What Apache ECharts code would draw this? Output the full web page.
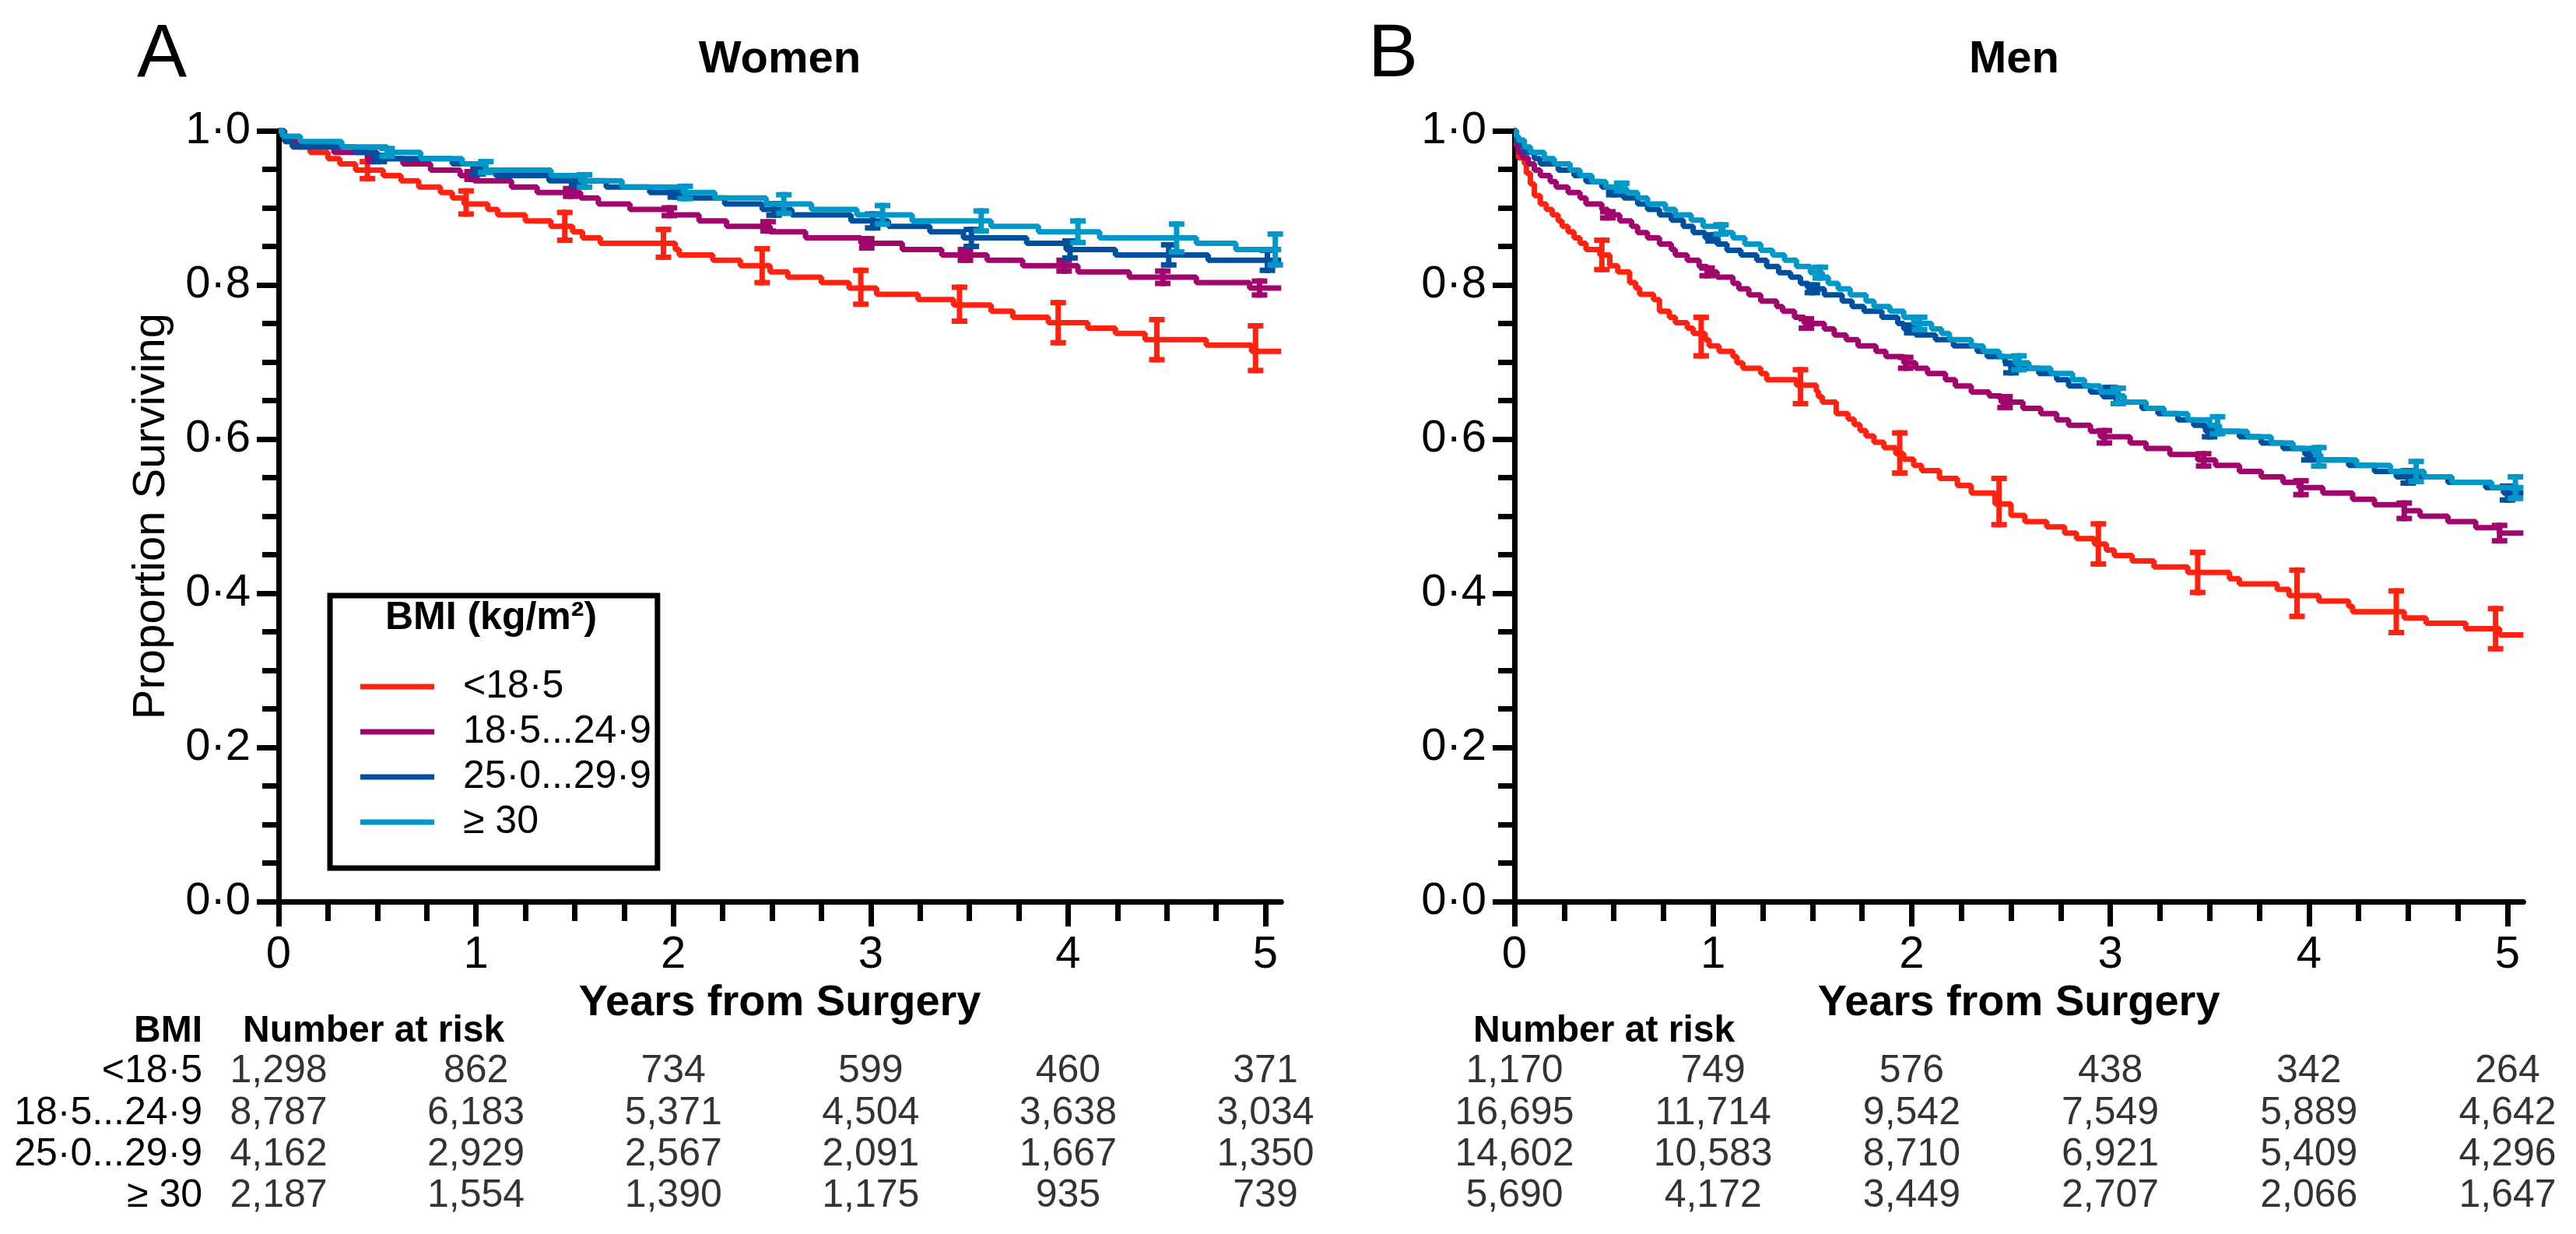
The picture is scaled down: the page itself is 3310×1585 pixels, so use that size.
<!DOCTYPE html>
<html><head><meta charset="utf-8">
<script src="https://cdn.jsdelivr.net/npm/echarts@6/dist/echarts.min.js"></script>
<style>html,body{margin:0;padding:0;background:#fff}#c{width:3310px;height:1585px}</style>
</head><body><div id="c"></div>
<script>
// ---------- data ----------
const groups = ['<18·5', '18·5...24·9', '25·0...29·9', '≥ 30'];
const groupColors = ['#ff2211', '#a0066c', '#00509e', '#0098c8'];
const riskYears = [0, 1, 2, 3, 4, 5];
const majorX = [0, 1, 2, 3, 4, 5];
const minorX = [0.25,0.5,0.75,1.25,1.5,1.75,2.25,2.5,2.75,3.25,3.5,3.75,4.25,4.5,4.75];

// Women: survival steps [years, proportion]
const womenLt185 = [[0,1],[0.03,0.990],[0.07,0.980],[0.16,0.972],[0.25,0.964],[0.31,0.957],[0.39,0.949],[0.53,0.942],[0.62,0.935],[0.71,0.927],[0.82,0.920],[0.88,0.913],[0.94,0.905],[1.06,0.898],[1.11,0.891],[1.25,0.883],[1.38,0.876],[1.49,0.869],[1.54,0.861],[1.63,0.854],[2.01,0.846],[2.03,0.839],[2.20,0.832],[2.34,0.825],[2.49,0.817],[2.58,0.810],[2.75,0.803],[2.89,0.796],[3.03,0.788],[3.24,0.781],[3.42,0.774],[3.61,0.766],[3.72,0.758],[3.90,0.751],[4.10,0.744],[4.24,0.737],[4.39,0.729],[4.70,0.722],[4.93,0.714],[5.08,0.714]];
const women185 = [[0,1],[0.02,0.993],[0.04,0.986],[0.10,0.979],[0.28,0.972],[0.45,0.964],[0.63,0.957],[0.77,0.949],[0.92,0.942],[0.99,0.935],[1.18,0.927],[1.31,0.920],[1.53,0.913],[1.62,0.905],[1.78,0.898],[1.99,0.891],[2.13,0.883],[2.27,0.876],[2.49,0.869],[2.67,0.861],[2.95,0.854],[3.16,0.846],[3.36,0.839],[3.59,0.832],[3.77,0.825],[4.05,0.817],[4.31,0.810],[4.65,0.803],[4.92,0.796],[5.08,0.796]];
const women250 = [[0,1],[0.03,0.986],[0.07,0.979],[0.39,0.972],[0.50,0.964],[0.88,0.957],[1.00,0.949],[1.10,0.942],[1.37,0.935],[1.66,0.927],[1.88,0.920],[2.05,0.913],[2.26,0.905],[2.45,0.898],[2.60,0.891],[2.90,0.883],[3.09,0.876],[3.30,0.869],[3.47,0.861],[3.79,0.854],[3.99,0.846],[4.24,0.839],[4.71,0.832],[5.08,0.832]];
const women30 = [[0,1],[0.02,0.993],[0.11,0.986],[0.32,0.979],[0.55,0.972],[0.72,0.964],[0.93,0.957],[1.05,0.949],[1.38,0.942],[1.53,0.935],[1.74,0.927],[2.05,0.920],[2.21,0.913],[2.47,0.905],[2.70,0.898],[2.93,0.891],[3.21,0.883],[3.61,0.876],[3.85,0.869],[4.16,0.861],[4.65,0.854],[4.85,0.846],[5.08,0.846]];

// Men: survival steps [years, proportion]
const menLt185 = [[0,1],[0.01,0.980],[0.02,0.965],[0.05,0.957],[0.06,0.945],[0.08,0.931],[0.10,0.916],[0.13,0.905],[0.16,0.898],[0.19,0.891],[0.22,0.883],[0.24,0.876],[0.27,0.869],[0.30,0.861],[0.33,0.854],[0.36,0.846],[0.43,0.839],[0.48,0.825],[0.52,0.817],[0.58,0.803],[0.61,0.796],[0.63,0.788],[0.70,0.781],[0.73,0.766],[0.78,0.758],[0.81,0.751],[0.87,0.744],[0.90,0.737],[0.96,0.729],[0.98,0.721],[1.03,0.714],[1.10,0.707],[1.12,0.699],[1.15,0.692],[1.24,0.685],[1.27,0.677],[1.42,0.670],[1.52,0.662],[1.53,0.655],[1.55,0.648],[1.62,0.633],[1.68,0.626],[1.71,0.619],[1.74,0.611],[1.77,0.604],[1.81,0.596],[1.86,0.589],[1.92,0.581],[1.96,0.574],[2.01,0.566],[2.05,0.559],[2.14,0.549],[2.23,0.540],[2.30,0.530],[2.42,0.516],[2.50,0.501],[2.57,0.493],[2.68,0.486],[2.77,0.478],[2.83,0.471],[2.92,0.464],[2.98,0.456],[3.02,0.449],[3.11,0.442],[3.22,0.434],[3.39,0.427],[3.60,0.419],[3.65,0.412],[3.84,0.405],[3.90,0.397],[4.05,0.390],[4.20,0.383],[4.22,0.376],[4.48,0.368],[4.59,0.361],[4.79,0.354],[4.96,0.346],[5.08,0.346]];
const men185 = [[0,1],[0.01,0.980],[0.02,0.972],[0.04,0.965],[0.07,0.957],[0.10,0.949],[0.13,0.942],[0.18,0.934],[0.21,0.927],[0.27,0.920],[0.33,0.913],[0.36,0.905],[0.44,0.898],[0.47,0.891],[0.53,0.883],[0.59,0.876],[0.62,0.868],[0.67,0.861],[0.73,0.853],[0.79,0.846],[0.81,0.839],[0.87,0.832],[0.93,0.824],[0.97,0.817],[1.02,0.810],[1.10,0.802],[1.13,0.795],[1.18,0.787],[1.24,0.779],[1.32,0.772],[1.35,0.766],[1.41,0.758],[1.46,0.750],[1.56,0.743],[1.61,0.735],[1.67,0.729],[1.73,0.721],[1.82,0.714],[1.87,0.707],[1.96,0.699],[2.02,0.692],[2.08,0.685],[2.17,0.677],[2.22,0.669],[2.30,0.661],[2.39,0.656],[2.45,0.648],[2.56,0.640],[2.65,0.633],[2.73,0.625],[2.79,0.618],[2.90,0.610],[2.95,0.603],[3.10,0.595],[3.18,0.588],[3.30,0.580],[3.44,0.573],[3.53,0.566],[3.65,0.558],[3.76,0.551],[3.87,0.544],[3.95,0.537],[4.07,0.530],[4.22,0.522],[4.33,0.515],[4.48,0.507],[4.56,0.500],[4.70,0.493],[4.84,0.485],[4.96,0.478],[5.08,0.478]];
const men250 = [[0,1],[0.01,0.986],[0.04,0.979],[0.05,0.972],[0.10,0.964],[0.13,0.957],[0.22,0.949],[0.30,0.942],[0.36,0.934],[0.44,0.927],[0.48,0.920],[0.55,0.913],[0.62,0.905],[0.67,0.898],[0.73,0.891],[0.79,0.884],[0.85,0.876],[0.90,0.868],[0.96,0.861],[1.02,0.853],[1.07,0.845],[1.14,0.839],[1.22,0.832],[1.27,0.824],[1.33,0.816],[1.39,0.810],[1.44,0.802],[1.48,0.795],[1.56,0.787],[1.65,0.779],[1.70,0.772],[1.76,0.766],[1.85,0.758],[1.93,0.750],[1.96,0.743],[2.02,0.735],[2.12,0.729],[2.21,0.721],[2.33,0.714],[2.38,0.707],[2.47,0.699],[2.50,0.692],[2.64,0.685],[2.73,0.677],[2.79,0.669],[2.90,0.661],[2.96,0.656],[3.03,0.648],[3.16,0.640],[3.24,0.633],[3.34,0.625],[3.42,0.618],[3.48,0.610],[3.65,0.603],[3.76,0.595],[3.87,0.588],[3.98,0.580],[4.01,0.573],[4.20,0.566],[4.33,0.558],[4.44,0.551],[4.70,0.544],[4.89,0.537],[4.98,0.530],[5.08,0.530]];
const men30 = [[0,1],[0.01,0.993],[0.02,0.988],[0.05,0.979],[0.08,0.972],[0.15,0.964],[0.20,0.957],[0.28,0.949],[0.33,0.942],[0.39,0.934],[0.46,0.927],[0.56,0.920],[0.62,0.913],[0.67,0.905],[0.76,0.898],[0.81,0.891],[0.89,0.884],[0.95,0.876],[1.05,0.868],[1.10,0.861],[1.16,0.853],[1.24,0.845],[1.30,0.839],[1.36,0.832],[1.42,0.824],[1.49,0.816],[1.55,0.810],[1.58,0.802],[1.63,0.795],[1.69,0.787],[1.77,0.779],[1.81,0.772],[1.89,0.766],[1.96,0.758],[2.01,0.750],[2.10,0.743],[2.15,0.737],[2.19,0.729],[2.30,0.721],[2.36,0.714],[2.44,0.707],[2.52,0.699],[2.59,0.692],[2.70,0.685],[2.81,0.677],[2.87,0.669],[2.95,0.661],[3.04,0.656],[3.07,0.648],[3.18,0.640],[3.27,0.633],[3.39,0.625],[3.50,0.618],[3.55,0.610],[3.69,0.603],[3.81,0.595],[3.92,0.588],[4.03,0.580],[4.06,0.573],[4.24,0.566],[4.41,0.558],[4.58,0.551],[4.72,0.544],[4.92,0.537],[5.08,0.537]];

// Error bars: times, centre, half-width
const wLt185ErrT = [0.45,0.95,1.45,1.95,2.45,2.95,3.45,3.95,4.45,4.95];
const wLt185ErrMid = [0.949,0.907,0.876,0.854,0.825,0.797,0.775,0.751,0.729,0.718];
const wLt185ErrHalf = [0.011,0.015,0.018,0.018,0.022,0.022,0.022,0.026,0.026,0.029];
const w185ErrT = [0.48,0.98,1.48,1.98,2.48,2.98,3.48,3.98,4.48,4.97];
const w185ErrMid = [0.964,0.942,0.920,0.895,0.876,0.854,0.839,0.825,0.810,0.796];
const w185ErrHalf = [0.004,0.005,0.005,0.005,0.006,0.006,0.007,0.007,0.008,0.009];
const w250ErrT = [0.51,1.01,1.51,2.01,2.51,3.01,3.51,4.01,4.51,5.01];
const w250ErrMid = [0.964,0.949,0.935,0.920,0.898,0.883,0.861,0.846,0.839,0.832];
const w250ErrHalf = [0.004,0.005,0.006,0.006,0.0075,0.009,0.011,0.011,0.013,0.013];
const w30ErrT = [0.55,1.05,1.55,2.06,2.56,3.06,3.56,4.05,4.55,5.05];
const w30ErrMid = [0.972,0.953,0.935,0.920,0.905,0.891,0.883,0.869,0.861,0.846];
const w30ErrHalf = [0.005,0.007,0.008,0.008,0.012,0.012,0.013,0.014,0.018,0.020];

const mLt185ErrT = [0.44,0.94,1.44,1.94,2.44,2.94,3.44,3.94,4.44,4.94];
const mLt185ErrMid = [0.839,0.733,0.668,0.582,0.519,0.464,0.427,0.400,0.376,0.354];
const mLt185ErrHalf = [0.019,0.025,0.022,0.026,0.030,0.026,0.026,0.030,0.027,0.026];
const m185ErrT = [0.47,0.97,1.47,1.97,2.47,2.97,3.47,3.96,4.48,4.96];
const m185ErrMid = [0.891,0.817,0.750,0.699,0.648,0.603,0.573,0.537,0.507,0.478];
const m185ErrHalf = [0.004,0.005,0.006,0.007,0.007,0.008,0.008,0.009,0.010,0.010];
const m250ErrT = [0.50,1.00,1.50,2.00,2.50,3.00,3.50,4.00,4.50,5.00];
const m250ErrMid = [0.920,0.861,0.795,0.743,0.692,0.661,0.610,0.580,0.551,0.530];
const m250ErrHalf = [0.003,0.004,0.005,0.005,0.006,0.006,0.007,0.007,0.008,0.009];
const m30ErrT = [0.54,1.04,1.54,2.04,2.54,3.04,3.54,4.05,4.54,5.04];
const m30ErrMid = [0.927,0.872,0.816,0.750,0.699,0.656,0.618,0.577,0.558,0.537];
const m30ErrHalf = [0.005,0.006,0.007,0.008,0.009,0.010,0.011,0.012,0.013,0.014];

// Number at risk
const womenRiskLt185 = [1298, 862, 734, 599, 460, 371];
const womenRisk185 = [8787, 6183, 5371, 4504, 3638, 3034];
const womenRisk250 = [4162, 2929, 2567, 2091, 1667, 1350];
const womenRisk30 = [2187, 1554, 1390, 1175, 935, 739];
const menRiskLt185 = [1170, 749, 576, 438, 342, 264];
const menRisk185 = [16695, 11714, 9542, 7549, 5889, 4642];
const menRisk250 = [14602, 10583, 8710, 6921, 5409, 4296];
const menRisk30 = [5690, 4172, 3449, 2707, 2066, 1647];

// ---------- chart ----------
const FONT = "'Liberation Sans', Arial, Helvetica, sans-serif";
const XMAX = 5.08;
const decimal = v => v.toFixed(1).replace('.', '·');

function km(name, data, color, ai, z) {
  return { type: 'line', name, data, step: 'end', xAxisIndex: ai, yAxisIndex: ai,
    showSymbol: false, symbol: 'none', color, lineStyle: { width: 7, color }, itemStyle: { color },
    z, silent: true, clip: false, animation: false };
}
function err(t, mid, half, color, ai, z) {
  const data = t.map((x, i) => [x, mid[i] - half[i], mid[i] + half[i]]);
  return { type: 'custom', data, xAxisIndex: ai, yAxisIndex: ai, z, silent: true, clip: false,
    encode: { x: 0, y: [1, 2] },
    renderItem: function (params, api) {
      const top = api.coord([api.value(0), api.value(2)]);
      const bot = api.coord([api.value(0), api.value(1)]);
      const w = 10, st = { stroke: color, lineWidth: 7 };
      return { type: 'group', children: [
        { type: 'line', shape: { x1: top[0], y1: top[1] - 3.5, x2: bot[0], y2: bot[1] + 3.5 }, style: st },
        { type: 'line', shape: { x1: top[0] - w, y1: top[1], x2: top[0] + w, y2: top[1] }, style: st },
        { type: 'line', shape: { x1: bot[0] - w, y1: bot[1], x2: bot[0] + w, y2: bot[1] }, style: st }
      ] };
    } };
}
function riskSeries(rows, ai) {
  const data = [];
  rows.forEach((r, ri) => r.forEach((v, j) => data.push([riskYears[j], groups[ri], v])));
  return { type: 'scatter', data, xAxisIndex: ai, yAxisIndex: ai, symbolSize: 1, silent: true,
    itemStyle: { color: 'rgba(0,0,0,0)' },
    label: { show: true, position: 'inside', fontSize: 50, fontFamily: FONT, color: '#000',
      formatter: p => p.value[2].toLocaleString('en-US') } };
}

const plotGrids = [
  { left: 358, top: 168, width: XMAX * 253.6, height: 990 },
  { left: 1946, top: 168, width: XMAX * 255.2, height: 990 }
];
const grid = [
  plotGrids[0], plotGrids[1],
  { left: 358, top: 1350, width: XMAX * 253.6, height: 213 },
  { left: 1946, top: 1350, width: XMAX * 255.2, height: 213 },
  Object.assign({}, plotGrids[0]), Object.assign({}, plotGrids[1])
];

const axisBlack = { color: '#000', width: 7 };
function mainX(gi) {
  return { gridIndex: gi, type: 'value', min: 0, max: XMAX,
    axisLine: { show: true, lineStyle: axisBlack },
    axisTick: { show: true, length: 32, lineStyle: axisBlack, customValues: majorX },
    axisLabel: { show: true, customValues: majorX, margin: 40, fontSize: 58, fontFamily: FONT, color: '#000' },
    splitLine: { show: false },
    name: 'Years from Surgery', nameLocation: 'middle', nameGap: 96,
    nameTextStyle: { fontSize: 56, fontWeight: 'bold', fontFamily: FONT, color: '#000' } };
}
function minorXAxis(gi) {
  return { gridIndex: gi, type: 'value', min: 0, max: XMAX,
    axisLine: { show: false }, axisLabel: { show: false }, splitLine: { show: false },
    axisTick: { show: true, length: 25, lineStyle: axisBlack, customValues: minorX } };
}
function mainY(gi, withName) {
  const a = { gridIndex: gi, type: 'value', min: 0, max: 1, interval: 0.2,
    axisLine: { show: true, lineStyle: axisBlack },
    axisTick: { show: true, length: 28, lineStyle: axisBlack },
    minorTick: { show: true, splitNumber: 4, length: 21, lineStyle: axisBlack },
    splitLine: { show: false }, minorSplitLine: { show: false },
    axisLabel: { fontSize: 58, fontFamily: FONT, color: '#000', margin: 36, formatter: decimal } };
  if (withName) Object.assign(a, { name: 'Proportion Surviving', nameLocation: 'middle', nameGap: 134,
    nameTextStyle: { fontSize: 58, fontFamily: FONT, color: '#000' } });
  return a;
}
function tableX(gi) { return { gridIndex: gi, type: 'value', min: 0, max: XMAX, show: false }; }
function tableY(gi, labels) {
  return { gridIndex: gi, type: 'category', data: groups, inverse: true,
    axisLine: { show: false }, axisTick: { show: false }, splitLine: { show: false },
    axisLabel: { show: labels, interval: 0, hideOverlap: false, margin: 98, fontSize: 50, fontFamily: FONT, color: '#000' } };
}
function hiddenY(gi) { return { gridIndex: gi, type: 'value', min: 0, max: 1, show: false }; }

const series = [];
const womenCurves = [womenLt185, women185, women250, women30];
const menCurves = [menLt185, men185, men250, men30];
const womenErr = [[wLt185ErrT, wLt185ErrMid, wLt185ErrHalf], [w185ErrT, w185ErrMid, w185ErrHalf], [w250ErrT, w250ErrMid, w250ErrHalf], [w30ErrT, w30ErrMid, w30ErrHalf]];
const menErr = [[mLt185ErrT, mLt185ErrMid, mLt185ErrHalf], [m185ErrT, m185ErrMid, m185ErrHalf], [m250ErrT, m250ErrMid, m250ErrHalf], [m30ErrT, m30ErrMid, m30ErrHalf]];
for (let g = 0; g < 4; g++) {
  series.push(km(groups[g], womenCurves[g], groupColors[g], 0, 10 + g * 2));
  series.push(err(womenErr[g][0], womenErr[g][1], womenErr[g][2], groupColors[g], 0, 10 + g * 2));
  series.push(km(groups[g], menCurves[g], groupColors[g], 1, 10 + g * 2));
  series.push(err(menErr[g][0], menErr[g][1], menErr[g][2], groupColors[g], 1, 10 + g * 2));
}
series.push(riskSeries([womenRiskLt185, womenRisk185, womenRisk250, womenRisk30], 2));
series.push(riskSeries([menRiskLt185, menRisk185, menRisk250, menRisk30], 3));

function txt(text, x, y, size, weight, align) {
  return { type: 'text', x, y, silent: true, style: { text, fontSize: size, fontWeight: weight || 'normal',
    fontFamily: FONT, fill: '#000', align: align || 'center', verticalAlign: 'middle' } };
}

const option = {
  animation: false,
  backgroundColor: '#fff',
  grid,
  xAxis: [mainX(0), mainX(1), tableX(2), tableX(3), minorXAxis(4), minorXAxis(5)],
  yAxis: [mainY(0, true), mainY(1, false), tableY(2, true), tableY(3, false), hiddenY(4), hiddenY(5)],
  legend: {
    orient: 'vertical', left: 424, top: 765, data: groups, icon: 'rect',
    itemWidth: 95, itemHeight: 7, itemGap: 0, selectedMode: false,
    padding: [88, 8, 30, 39], borderColor: '#000', borderWidth: 7, borderRadius: 0,
    textStyle: { fontSize: 50, lineHeight: 58, fontFamily: FONT, color: '#000', padding: [0, 0, 0, 32] }
  },
  graphic: [
    txt('A', 208, 72, 96),
    txt('B', 1790, 72, 96),
    txt('Women', 1002, 77, 58, 'bold'),
    txt('Men', 2588, 77, 58, 'bold'),
    txt('BMI (kg/m²)', 631, 794, 50, 'bold'),
    txt('BMI', 260, 1325, 48, 'bold', 'right'),
    txt('Number at risk', 312, 1325, 48, 'bold', 'left'),
    txt('Number at risk', 1893, 1325, 48, 'bold', 'left')
  ],
  series
};
const chart = echarts.init(document.getElementById('c'), null, { renderer: 'canvas', width: 3310, height: 1585 });
chart.setOption(option);
</script></body></html>
